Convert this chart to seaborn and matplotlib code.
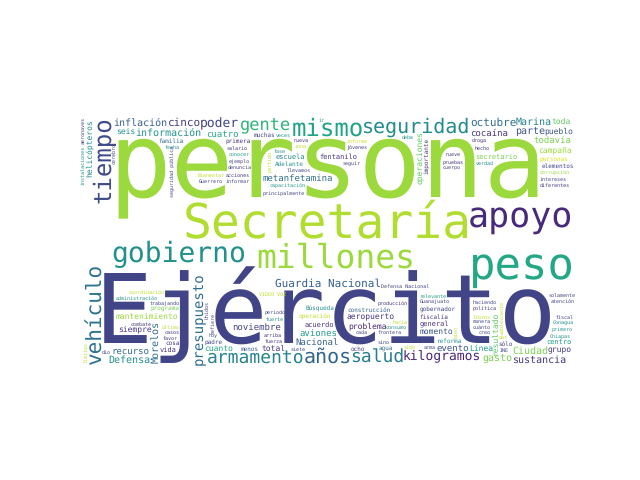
import numpy as np
import matplotlib
matplotlib.use("Agg")
import matplotlib.pyplot as plt
import seaborn as sns
from matplotlib.font_manager import FontProperties
from matplotlib.textpath import TextPath
from matplotlib.transforms import Affine2D

# word frequencies, most frequent first
words = [
    "persona", "Ejército", "Secretaría", "millones", "peso", "apoyo",
    "gobierno", "mismo", "seguridad", "tiempo", "vehículo", "años",
    "salud", "armamento", "gente", "presupuesto", "kilogramos", "poder",
    "Guardia Nacional", "cinco", "octubre", "gasto", "Morelos", "inflación",
    "Defensa", "sustancia", "información", "Marina", "Ciudad", "parte",
    "noviembre", "recurso", "cocaína", "cuatro", "Nacional", "evento",
    "todavía", "metanfetamina", "aviones", "helicópteros", "pueblo", "campaña",
    "toda", "grupo", "mantenimiento", "resultado", "total", "seis",
    "momento", "siempre", "cuanto", "problema", "Línea", "operaciones",
    "aeropuerto", "fentanilo", "secretario", "acuerdo", "vida", "escuela",
    "centro", "general", "personas", "operación", "importante", "Adelante",
    "fiscalía", "agua", "ocho", "construcción", "menos", "gobernador",
    "reforma", "familia", "elementos", "Búsqueda", "primera", "programa",
    "muchas", "padre", "cosa", "sólo", "informe", "fuerza",
    "corrupción", "Chiapas", "frontera", "salario", "nueva", "primero",
    "política", "consumo", "dio", "droga", "favor", "arriba",
    "jóvenes", "conocer", "Conagua", "combate", "veces", "llevamos",
    "acciones", "Bienestar", "fecha", "ejemplo", "hecho", "arma",
    "casos", "último", "debe", "producción", "cuánto", "nueve",
    "trabajando", "Guanajuato", "haciendo", "pruebas", "administración", "fuerte",
    "intereses", "capacitación", "coordinación", "atención", "seguir", "sino",
    "ir", "hacia", "informar", "hoy", "Guerrero", "zona",
    "verdad", "dar", "diferentes", "relevante", "INE", "cada",
    "fiscal", "aeronaves", "adolescente", "Defensa Nacional", "principalmente", "siete",
    "denuncia", "solamente", "VIDEO VOZ", "periodo", "sido", "creo",
    "manera", "libros", "cuerpo", "límites", "bien", "cerebro",
    "refiere", "instalaciones", "seguridad pública", "partido", "Unidos", "fase",
]
counts = [
    10000, 8521, 2130, 1839, 1790, 1479,
    947, 625, 578, 533, 408, 370,
    300, 300, 267, 208, 164, 156,
    112, 106, 106, 98, 98, 96,
    92, 89, 89, 87, 87, 87,
    83, 83, 83, 82, 82, 73,
    72, 68, 68, 64, 64, 64,
    64, 64, 62, 59, 59, 59,
    58, 58, 56, 52, 52, 52,
    52, 51, 48, 47, 45, 45,
    45, 42, 39, 39, 39, 39,
    39, 39, 39, 39, 39, 38,
    38, 38, 34, 33, 33, 33,
    33, 33, 33, 33, 28, 28,
    28, 28, 28, 28, 28, 28,
    28, 28, 28, 28, 28, 28,
    23, 23, 23, 23, 23, 23,
    23, 23, 23, 23, 23, 23,
    23, 23, 23, 23, 23, 23,
    23, 23, 23, 23, 23, 23,
    23, 23, 23, 23, 23, 23,
    23, 23, 23, 23, 23, 23,
    23, 23, 23, 23, 23, 23,
    23, 23, 23, 23, 23, 19,
    19, 19, 19, 19, 19, 19,
    19, 19, 19, 19, 19, 19,
    19, 19, 19, 19, 19, 19,
]
# position of each word's colour on the viridis scale
shades = [
    0.85, 0.20, 0.88, 0.85, 0.60, 0.12,
    0.50, 0.58, 0.48, 0.22, 0.38, 0.32,
    0.42, 0.45, 0.65, 0.35, 0.10, 0.20,
    0.30, 0.18, 0.35, 0.80, 0.35, 0.30,
    0.50, 0.15, 0.50, 0.45, 0.80, 0.25,
    0.20, 0.33, 0.15, 0.60, 0.30, 0.25,
    0.80, 0.35, 0.55, 0.50, 0.25, 0.85,
    0.75, 0.15, 0.85, 0.75, 0.15, 0.50,
    0.25, 0.15, 0.60, 0.10, 0.55, 0.75,
    0.15, 0.15, 0.80, 0.15, 0.15, 0.45,
    0.55, 0.15, 0.95, 0.90, 0.15, 0.50,
    0.15, 0.35, 0.15, 0.30, 0.30, 0.20,
    0.50, 0.35, 0.20, 0.50, 0.15, 0.80,
    0.20, 0.20, 0.15, 0.20, 0.92, 0.15,
    0.85, 0.50, 0.20, 0.15, 0.15, 0.50,
    0.15, 0.50, 0.20, 0.15, 0.15, 0.15,
    0.15, 0.55, 0.50, 0.15, 0.50, 0.20,
    0.15, 0.90, 0.50, 0.20, 0.15, 0.20,
    0.15, 0.90, 0.50, 0.15, 0.20, 0.15,
    0.20, 0.20, 0.20, 0.15, 0.50, 0.50,
    0.20, 0.55, 0.90, 0.20, 0.20, 0.20,
    0.50, 0.90, 0.20, 0.20, 0.20, 0.90,
    0.50, 0.90, 0.15, 0.55, 0.20, 0.20,
    0.20, 0.20, 0.90, 0.20, 0.20, 0.20,
    0.20, 0.20, 0.90, 0.20, 0.90, 0.20,
    0.20, 0.90, 0.20, 0.90, 0.90, 0.20,
    0.20, 0.50, 0.20, 0.90, 0.20, 0.50,
]
# words written bottom-to-top
vertical_words = {
    "tiempo", "vehículo", "presupuesto", "Morelos", "helicópteros", "resultado",
    "operaciones", "importante", "aeronaves", "adolescente", "límites", "bien",
    "cerebro", "refiere", "instalaciones", "seguridad pública", "partido", "Unidos",
}

CANVAS_W, CANVAS_H = 400, 200
GRID = 2          # occupancy cells per canvas unit
MAX_SIZE = 84     # em size (canvas units) of the most frequent word
MIN_SIZE = 3
ASCENT = 0.76     # word boxes reach up to the ascender line

sns.set_theme(style="white")
plt.rcParams["font.family"] = ["DejaVu Sans Mono", "DejaVu Sans"]
plt.rcParams["text.hinting"] = "no_hinting"
plt.rcParams["text.hinting_factor"] = 1
mono = FontProperties(family="DejaVu Sans Mono")
cmap = sns.color_palette("viridis", as_cmap=True)


def word_mask(word, size, vertical):
    em = size * GRID
    path = TextPath((0, 0), word, size=em, prop=mono)
    ext = path.get_extents()
    x0, x1, y0, y1 = ext.x0, ext.x1, ext.y0, max(ext.y1, ASCENT * em)
    if vertical:
        path = path.transformed(Affine2D().rotate_deg(90))
        x0, x1, y0, y1 = -y1, -y0, x0, x1
    x0, y0 = int(np.floor(x0)) - 1, int(np.floor(y0)) - 1
    w = int(np.ceil(x1)) - x0 + 2
    h = int(np.ceil(y1)) - y0 + 2
    gx, gy = np.meshgrid(x0 + np.arange(w) + 0.5, y0 + np.arange(h) + 0.5)
    inside = path.contains_points(np.column_stack([gx.ravel(), gy.ravel()]))
    mask = inside.reshape(h, w)
    grown = mask.copy()
    grown[1:] |= mask[:-1]
    grown[:-1] |= mask[1:]
    grown[:, 1:] |= mask[:, :-1]
    grown[:, :-1] |= mask[:, 1:]
    return grown, x0, y0


occupied = np.zeros((CANVAS_H * GRID, CANVAS_W * GRID), dtype=bool)


def find_spot(mask):
    # free box nearest to the top or bottom edge, then nearest the middle
    h, w = mask.shape
    gh, gw = occupied.shape
    if h > gh or w > gw:
        return None
    s = np.zeros((gh + 1, gw + 1), dtype=np.int64)
    s[1:, 1:] = occupied.cumsum(0).cumsum(1)
    box = s[h:, w:] - s[:gh - h + 1, w:] - s[h:, :gw - w + 1] + s[:gh - h + 1, :gw - w + 1]
    rows, cols = np.nonzero(box == 0)
    if rows.size == 0:
        return None
    edge = np.minimum(rows, gh - h - rows)
    side = np.abs(cols + w / 2 - gw / 2)
    best = np.lexsort((-rows, side, edge))[0]
    return rows[best], cols[best]


fig = plt.figure(figsize=(6.4, 4.8), dpi=100)
ax = fig.add_axes([0.125, 0.2417, 0.775, 0.5167])
ax.set_xlim(0, CANVAS_W)
ax.set_ylim(0, CANVAS_H)
ax.axis("off")
pt_per_unit = ax.bbox.width / CANVAS_W * 72 / fig.dpi

for word, count, shade in zip(words, counts, shades):
    size = MAX_SIZE * np.sqrt(count / counts[0])
    vertical = word in vertical_words
    spot = None
    while size >= MIN_SIZE:
        mask, x0, y0 = word_mask(word, size, vertical)
        spot = find_spot(mask)
        if spot is not None:
            break
        size *= 0.93
    if spot is None:
        continue
    r, c = spot
    h, w = mask.shape
    occupied[r:r + h, c:c + w] |= mask
    ax.text((c - x0) / GRID, (r - y0) / GRID, word,
            fontsize=size * pt_per_unit, family="DejaVu Sans Mono",
            color=cmap(shade), ha="left", va="baseline",
            rotation=90 if vertical else 0, rotation_mode="anchor")

fig.savefig("out.png", dpi=100, facecolor="white")
